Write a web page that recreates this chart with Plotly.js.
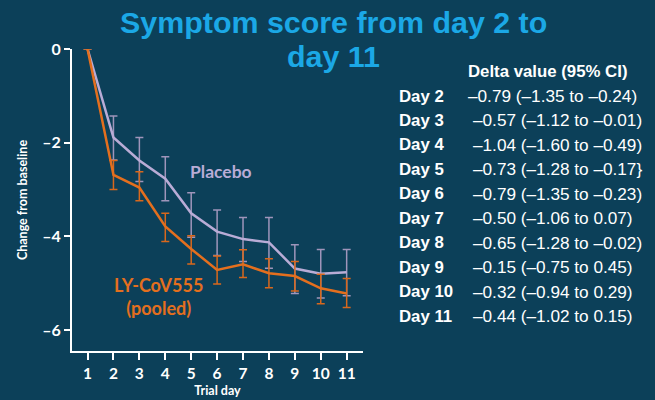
<!DOCTYPE html>
<html>
<head>
<meta charset="utf-8">
<script src="https://cdn.plot.ly/plotly-3.0.1.min.js"></script>
<style>html,body{margin:0;padding:0;background:#0c4059;}#chart{width:655px;height:400px;}</style>
</head>
<body>
<div id="chart"></div>
<script>
// ---- data ----
const days = [1,2,3,4,5,6,7,8,9,10,11];
const placebo = [0,-1.89,-2.38,-2.77,-3.51,-3.90,-4.06,-4.13,-4.69,-4.80,-4.77];
const placeboUpper = [0,-1.43,-1.89,-2.30,-3.07,-3.44,-3.60,-3.60,-4.18,-4.28,-4.28];
const placeboLower = [0,-2.37,-2.83,-3.24,-4.02,-4.41,-4.54,-4.68,-5.22,-5.32,-5.27];
const lyCov = [0,-2.69,-2.96,-3.79,-4.27,-4.72,-4.60,-4.79,-4.85,-5.11,-5.22];
const lyUpper = [0,-2.38,-2.62,-3.51,-3.99,-4.42,-4.29,-4.48,-4.54,-4.81,-4.90];
const lyLower = [0,-3.00,-3.24,-4.11,-4.59,-5.02,-4.88,-5.10,-5.17,-5.44,-5.52];
const yTickVals = [0,-2,-4,-6];
const yTickText = ['0','\u20132','\u20134','\u20136'];
const tableHeader = 'Delta value (95% CI)';
const tableDays = ['Day 2','Day 3','Day 4','Day 5','Day 6','Day 7','Day 8','Day 9','Day 10','Day 11'];
const tableValues = [
  '\u20130.79 (\u20131.35 to \u20130.24)',
  '\u20130.57 (\u20131.12 to \u20130.01)',
  '\u20131.04 (\u20131.60 to \u20130.49)',
  '\u20130.73 (\u20131.28 to \u20130.17}',
  '\u20130.79 (\u20131.35 to \u20130.23)',
  '\u20130.50 (\u20131.06 to 0.07)',
  '\u20130.65 (\u20131.28 to \u20130.02)',
  '\u20130.15 (\u20130.75 to 0.45)',
  '\u20130.32 (\u20130.94 to 0.29)',
  '\u20130.44 (\u20131.02 to 0.15)'
];
const titleLines = ['Symptom score from day 2 to', 'day 11'];

// ---- helpers for pixel-placed text ----
const L = 72, R = 363, T = 49, B = 351;
const px = x => (x - L) / (R - L);
const py = y => (B - y) / (B - T);

const errUp = (v, u) => v.map((d, i) => +(u[i] - d).toFixed(3));
const errDn = (v, l) => v.map((d, i) => +(d - l[i]).toFixed(3));

const traces = [
  {
    x: days, y: placebo, type: 'scatter', mode: 'lines', name: 'Placebo',
    line: {color: '#b9acd6', width: 2.5},
    error_y: {type: 'data', symmetric: false, array: errUp(placebo, placeboUpper),
      arrayminus: errDn(placebo, placeboLower), color: '#9f95bb', thickness: 1.5, width: 4},
    cliponaxis: false
  },
  {
    x: days, y: lyCov, type: 'scatter', mode: 'lines', name: 'LY-CoV555 (pooled)',
    line: {color: '#e46f1e', width: 2.5},
    error_y: {type: 'data', symmetric: false, array: errUp(lyCov, lyUpper),
      arrayminus: errDn(lyCov, lyLower), color: '#d8681d', thickness: 1.5, width: 4},
    cliponaxis: false
  }
];

const ann = [];
const tFont = {family: 'Liberation Sans, Arial, sans-serif', size: 30.4, color: '#1ba8e6', weight: 'bold'};
ann.push({xref: 'paper', yref: 'paper', x: px(333), y: py(22), xanchor: 'center', yanchor: 'middle',
  text: titleLines[0], showarrow: false, font: tFont});
ann.push({xref: 'paper', yref: 'paper', x: px(333), y: py(56), xanchor: 'center', yanchor: 'middle',
  text: titleLines[1], showarrow: false, font: tFont});

const tabBold = {family: 'Liberation Sans, Arial, sans-serif', size: 16.8, color: '#ffffff', weight: 'bold'};
const tabReg = {family: 'Liberation Sans, Arial, sans-serif', size: 17.2, color: '#ffffff'};
ann.push({xref: 'paper', yref: 'paper', x: px(466), y: py(72), xanchor: 'left', yanchor: 'middle',
  text: tableHeader, showarrow: false, font: tabBold});
tableDays.forEach((d, i) => {
  const yy = 96 + 24.45 * i;
  ann.push({xref: 'paper', yref: 'paper', x: px(397), y: py(yy), xanchor: 'left', yanchor: 'middle',
    text: d, showarrow: false, font: tabBold});
  ann.push({xref: 'paper', yref: 'paper', x: px(i === 0 ? 466 : 471), y: py(yy), xanchor: 'left', yanchor: 'middle',
    text: tableValues[i], showarrow: false, font: tabReg});
});

ann.push({xref: 'paper', yref: 'paper', x: px(221), y: py(171), xanchor: 'center', yanchor: 'middle',
  text: 'Placebo', showarrow: false, font: {family: 'Lato, sans-serif', size: 17.5, color: '#b9acd6', weight: 'bold'}});
ann.push({xref: 'paper', yref: 'paper', x: px(158), y: py(296), xanchor: 'center', yanchor: 'middle',
  text: 'LY-CoV555<br>(pooled)', showarrow: false, align: 'center',
  font: {family: 'Lato, sans-serif', size: 18, color: '#e46f1e', weight: 'bold'}});

const layout = {
  width: 655, height: 400,
  margin: {l: L, r: 655 - R, t: T, b: 400 - B, pad: 0},
  paper_bgcolor: '#0c4059', plot_bgcolor: 'rgba(0,0,0,0)',
  showlegend: false,
  xaxis: {
    range: [0.4, 11.63], tickvals: days, ticktext: days.map(String),
    showgrid: false, zeroline: false, showline: true, linecolor: '#ffffff', linewidth: 2,
    ticks: 'outside', ticklen: 7, tickwidth: 2, tickcolor: '#ffffff',
    tickfont: {family: 'Lato, sans-serif', size: 15.5, color: '#ffffff', weight: 'bold'},
    title: {text: 'Trial day', standoff: 6, font: {family: 'Lato, sans-serif', size: 12.5, color: '#ffffff', weight: 'bold'}},
    fixedrange: true
  },
  yaxis: {
    range: [-6.45, 0], tickvals: yTickVals, ticktext: yTickText,
    showgrid: false, zeroline: false, showline: true, linecolor: '#ffffff', linewidth: 2,
    ticks: 'outside', ticklen: 6, tickwidth: 2, tickcolor: '#ffffff',
    tickfont: {family: 'Lato, sans-serif', size: 16, color: '#ffffff', weight: 'bold'},
    title: {text: 'Change from baseline', standoff: 12, font: {family: 'Lato, sans-serif', size: 12.5, color: '#ffffff', weight: 'bold'}},
    fixedrange: true
  },
  annotations: ann
};

Plotly.newPlot('chart', traces, layout, {displayModeBar: false, staticPlot: true});
</script>
</body>
</html>
